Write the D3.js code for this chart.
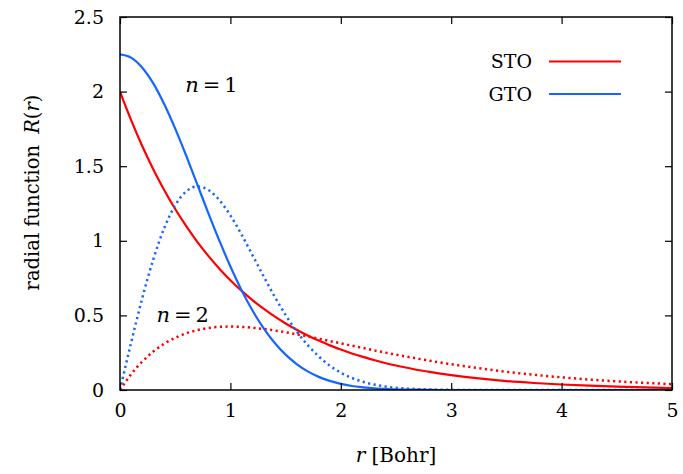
<!DOCTYPE html>
<html>
<head>
<meta charset="utf-8">
<script src="https://cdn.jsdelivr.net/npm/d3@7"></script>
<style>
  body { margin: 0; background: #fff; }
</style>
</head>
<body>
<div id="chart"></div>
<script>
// radius grid [Bohr]
const rGrid = [0,0.1,0.2,0.3,0.4,0.5,0.6,0.7,0.8,0.9,1.0,1.1,1.2,1.3,1.4,1.5,1.6,1.7,1.8,1.9,2.0,
  2.1,2.2,2.3,2.4,2.5,2.6,2.7,2.8,2.9,3.0,3.25,3.5,3.75,4.0,4.25,4.5,4.75,5.0];

// values
const sto1 = [2.000,1.810,1.637,1.482,1.341,1.213,1.098,0.993,0.899,0.813,0.736,0.666,0.602,0.545,0.493,0.446,
  0.404,0.365,0.331,0.299,0.271,0.245,0.222,0.201,0.181,0.164,0.149,0.134,0.122,0.110,0.100,0.078,0.060,0.047,
  0.037,0.029,0.022,0.017,0.013];
const sto2 = [0,0.105,0.189,0.257,0.310,0.350,0.380,0.401,0.415,0.423,0.425,0.423,0.417,0.409,0.399,0.387,
  0.373,0.359,0.344,0.328,0.313,0.297,0.282,0.266,0.251,0.237,0.223,0.210,0.197,0.184,0.173,0.146,0.122,0.102,
  0.085,0.070,0.058,0.048,0.039];
const gto1 = [2.250,2.228,2.162,2.057,1.917,1.752,1.570,1.378,1.186,1.001,0.828,0.671,0.533,0.415,0.317,0.237,
  0.174,0.125,0.088,0.061,0.041,0.027,0.018,0.011,0.007,0.004,0.003,0.002,0.001,0,0,0,0,0,0,0,0,0,0];
const gto2 = [0,0.315,0.611,0.872,1.084,1.238,1.331,1.364,1.341,1.273,1.170,1.043,0.904,0.763,0.627,0.503,
  0.393,0.301,0.225,0.164,0.116,0.081,0.055,0.037,0.024,0.015,0.010,0.006,0.003,0.002,0.001,0,0,0,0,0,0,0,0];

const xTicks = [0,1,2,3,4,5];
const yTicks = [0,0.5,1,1.5,2,2.5];
const legendNames = ["STO","GTO"];

const W = 683, H = 474;
const margin = {top: 17, right: 11, bottom: 84, left: 120};
const width = W - margin.left - margin.right;
const height = H - margin.top - margin.bottom;

const red = "#ff0000", blue = "#1565ff";
const serif = '"DejaVu Serif", serif';

let svg = d3.select("#chart").append("svg")
  .attr("width", W).attr("height", H)
  .attr("font-family", serif);

let g = svg.append("g").attr("transform", `translate(${margin.left},${margin.top})`);

let x = d3.scaleLinear().domain([0,5]).range([0,width]);
let y = d3.scaleLinear().domain([0,2.5]).range([height,0]);

// curves
const series = [
  {v: sto1, color: red, dash: null},
  {v: sto2, color: red, dash: "2.2,3.4"},
  {v: gto1, color: blue, dash: null},
  {v: gto2, color: blue, dash: "2.2,3.4"}
];
let line = d3.line()
  .x((d,i) => x(rGrid[i]))
  .y(d => y(d))
  .curve(d3.curveMonotoneX);

svg.append("clipPath").attr("id","clip")
  .append("rect").attr("width", width).attr("height", height);

g.append("g").attr("clip-path","url(#clip)")
  .selectAll("path")
  .data(series)
  .join("path")
  .attr("d", d => line(d.v))
  .attr("fill","none")
  .attr("stroke", d => d.color)
  .attr("stroke-width", d => d.dash ? 2.5 : 2.2)
  .attr("stroke-dasharray", d => d.dash);

// axes (ticks inward, mirrored)
const tickLen = 7;
g.append("g").attr("transform", `translate(0,${height})`)
  .call(d3.axisBottom(x).tickValues(xTicks).tickSize(-tickLen).tickPadding(14).tickFormat(d3.format("")))
  .call(a => a.select(".domain").remove());
g.append("g")
  .call(d3.axisTop(x).tickValues(xTicks).tickSize(-tickLen).tickFormat(""))
  .call(a => a.select(".domain").remove());
g.append("g")
  .call(d3.axisLeft(y).tickValues(yTicks).tickSize(-tickLen).tickPadding(16).tickFormat(d3.format("")))
  .call(a => a.select(".domain").remove());
g.append("g").attr("transform", `translate(${width},0)`)
  .call(d3.axisRight(y).tickValues(yTicks).tickSize(-tickLen).tickFormat(""))
  .call(a => a.select(".domain").remove());

g.selectAll("g").filter(function() { return this.hasAttribute("font-family"); })
  .attr("font-family", serif);
g.selectAll(".tick line").attr("stroke","#000").attr("stroke-width",1.2);
g.selectAll(".tick text").attr("font-size", 19).attr("fill","#000");

g.append("rect").attr("width", width).attr("height", height)
  .attr("fill","none").attr("stroke","#000").attr("stroke-width",1.5);

// axis labels
svg.append("text")
  .attr("x", margin.left + width/2).attr("y", 462)
  .attr("text-anchor","middle").attr("font-size", 20)
  .html('<tspan font-style="italic">r</tspan> [Bohr]');

svg.append("text")
  .attr("transform", `translate(39,${margin.top + height/2 - 11}) rotate(-90)`)
  .attr("text-anchor","middle").attr("font-size", 19.5)
  .html('radial function <tspan dx="5" font-style="italic">R</tspan>(<tspan font-style="italic">r</tspan>)');

// annotations
g.append("text").attr("x", x(0.59)).attr("y", y(2.0))
  .attr("font-size", 21)
  .html('<tspan font-style="italic">n</tspan><tspan dx="4">=</tspan><tspan dx="4">1</tspan>');
g.append("text").attr("x", x(0.33)).attr("y", y(0.455))
  .attr("font-size", 21)
  .html('<tspan font-style="italic">n</tspan><tspan dx="4">=</tspan><tspan dx="4">2</tspan>');

// legend
let leg = g.selectAll(".leg")
  .data(legendNames)
  .join("g")
  .attr("class","leg")
  .attr("transform", (d,i) => `translate(0,${44.5 + i*32.5})`);
leg.append("text")
  .attr("x", 412).attr("dy","0.35em")
  .attr("text-anchor","end").attr("font-size", 19)
  .text(d => d);
leg.append("line")
  .attr("x1", 429).attr("x2", 501)
  .attr("stroke", (d,i) => i === 0 ? red : blue)
  .attr("stroke-width", 2.2);
</script>
</body>
</html>
